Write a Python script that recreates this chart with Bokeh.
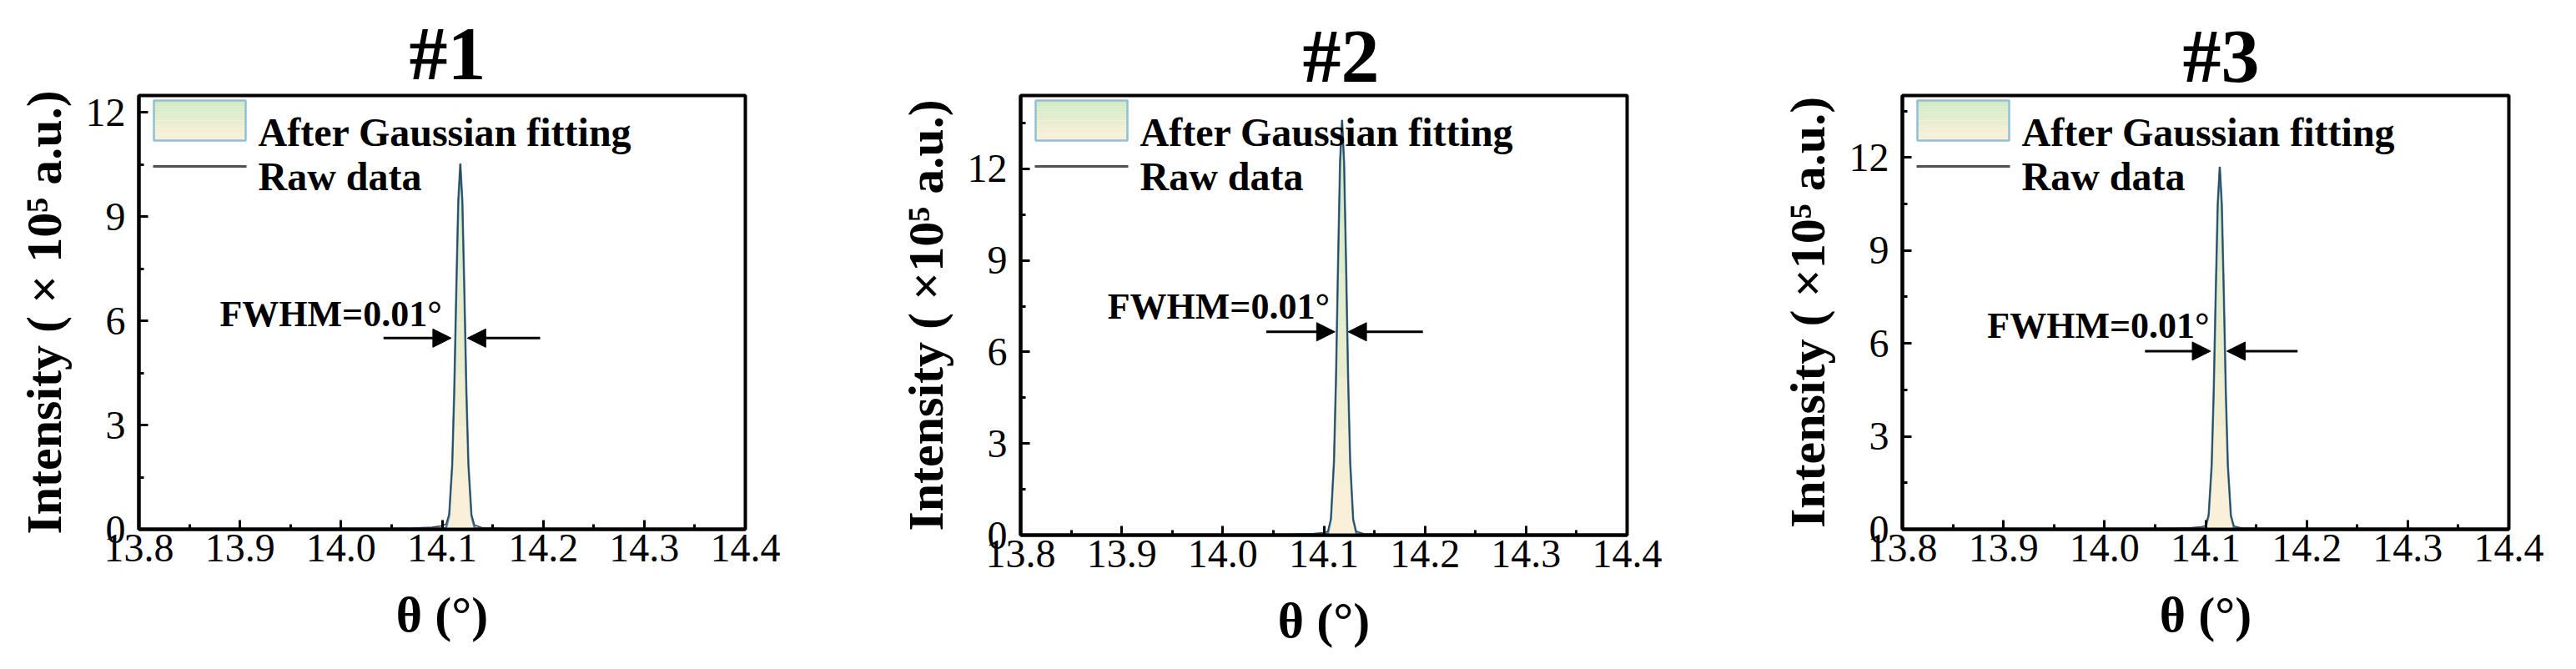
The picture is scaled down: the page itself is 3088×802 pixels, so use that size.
from bokeh.plotting import figure
from bokeh.layouts import row
from bokeh.models import (Range1d, FixedTicker, PrintfTickFormatter, BoxAnnotation,
                          Label, Arrow, NormalHead)
from bokeh.embed import file_html
from bokeh.resources import INLINE

# ---------------- data ----------------
titles = ["#1", "#2", "#3"]
y_labels = ["Intensity ( × 10\u2075 a.u.)", "Intensity ( ×10\u2075 a.u.)", "Intensity ( ×10\u2075 a.u.)"]
x_label = "θ (°)"
legend_labels = ["After Gaussian fitting", "Raw data"]
fwhm_text = "FWHM=0.01°"

x_ticks = [13.8, 13.9, 14.0, 14.1, 14.2, 14.3, 14.4]
x_minor = [13.85, 13.95, 14.05, 14.15, 14.25, 14.35]
y_ticks = [0, 3, 6, 9, 12]
y_minor = [1.5, 4.5, 7.5, 10.5, 13.5]
y_max = [12.48, 14.4, 14.0]

theta_raw_1 = [13.80, 13.95, 14.04, 14.07, 14.09, 14.100, 14.104, 14.107, 14.110, 14.112, 14.114, 14.116,
               14.118, 14.120, 14.122, 14.124, 14.126, 14.129, 14.132, 14.14, 14.16, 14.25, 14.40]
raw_1 = [0.00, 0.00, 0.01, 0.03, 0.06, 0.10, 0.15, 0.45, 1.85, 3.95, 6.85, 9.45,
         10.52, 9.45, 6.85, 3.95, 1.85, 0.42, 0.12, 0.04, 0.02, 0.00, 0.00]
theta_fit_1 = [14.100, 14.104, 14.107, 14.110, 14.112, 14.114, 14.116, 14.118,
               14.120, 14.122, 14.124, 14.126, 14.129, 14.132, 14.136]
fit_1 = [0.00, 0.05, 0.40, 1.86, 3.98, 6.83, 9.44, 10.52, 9.44, 6.83, 3.98, 1.86, 0.40, 0.05, 0.00]

theta_raw_2 = [13.80, 13.95, 14.04, 14.07, 14.09, 14.100, 14.104, 14.107, 14.110, 14.112, 14.114, 14.116,
               14.118, 14.120, 14.122, 14.124, 14.126, 14.129, 14.132, 14.14, 14.16, 14.25, 14.40]
raw_2 = [0.00, 0.00, 0.01, 0.03, 0.05, 0.08, 0.12, 0.55, 2.40, 5.10, 8.80, 12.20,
         13.60, 12.20, 8.80, 5.10, 2.40, 0.50, 0.12, 0.04, 0.02, 0.00, 0.00]
theta_fit_2 = [14.100, 14.104, 14.107, 14.110, 14.112, 14.114, 14.116, 14.118,
               14.120, 14.122, 14.124, 14.126, 14.129, 14.132, 14.136]
fit_2 = [0.00, 0.07, 0.52, 2.41, 5.14, 8.83, 12.20, 13.60, 12.20, 8.83, 5.14, 2.41, 0.52, 0.07, 0.00]

theta_raw_3 = [13.80, 13.95, 14.04, 14.07, 14.086, 14.096, 14.100, 14.103, 14.106, 14.108, 14.110, 14.112,
               14.114, 14.116, 14.118, 14.120, 14.122, 14.125, 14.128, 14.136, 14.156, 14.25, 14.40]
raw_3 = [0.00, 0.00, 0.01, 0.03, 0.05, 0.08, 0.12, 0.47, 2.05, 4.40, 7.60, 10.50,
         11.70, 10.50, 7.60, 4.40, 2.05, 0.45, 0.10, 0.04, 0.02, 0.00, 0.00]
theta_fit_3 = [14.096, 14.100, 14.103, 14.106, 14.108, 14.110, 14.112, 14.114,
               14.116, 14.118, 14.120, 14.122, 14.125, 14.128, 14.132]
fit_3 = [0.00, 0.06, 0.44, 2.07, 4.42, 7.59, 10.49, 11.70, 10.49, 7.59, 4.42, 2.07, 0.44, 0.06, 0.00]

# FWHM annotation positions (data coords)
arrow_y = [5.50, 6.66, 5.75]
arrow_left = [(14.042, 14.109), (14.043, 14.111), (14.040, 14.105)]
arrow_right = [(14.197, 14.125), (14.198, 14.124), (14.191, 14.121)]
fwhm_pos = [(13.880, 6.20), (13.886, 7.48), (13.884, 6.58)]

# ---------------- style ----------------
SERIF = "Liberation Serif"
FRAME_W = 727
frame_h = [520, 527, 520]
border_l = [166, 199, 232]
border_t = [114, 114, 114]
title_offset = [324, 338, 336]
title_standoff = [0, -7, -7]

C_TOP = (208, 234, 196)     # pale green
C_BOT = (253, 240, 218)     # cream


def mix(t):
    r = [int(round(C_BOT[k] + (C_TOP[k] - C_BOT[k]) * t)) for k in range(3)]
    return "#%02x%02x%02x" % tuple(r)


def make_panel(i, theta_r, raw, theta_f, fit):
    ymax = y_max[i]
    fh = frame_h[i]
    bl = border_l[i]
    br = 1024 - bl - FRAME_W
    bt = border_t[i]
    bb = 786 - bt - fh
    p = figure(frame_width=FRAME_W, frame_height=fh,
               min_border_left=bl, min_border_right=br,
               min_border_top=bt, min_border_bottom=bb,
               x_range=Range1d(13.8, 14.4), y_range=Range1d(0, ymax),
               output_backend="svg", toolbar_location=None, tools="")
    p.background_fill_color = "white"
    p.border_fill_color = "white"
    p.outline_line_color = "black"
    p.outline_line_width = 4
    p.outline_line_alpha = 1.0
    p.xgrid.visible = False
    p.ygrid.visible = False

    # title
    p.title.text = titles[i]
    p.title.text_font = SERIF
    p.title.text_font_size = "92px"
    p.title.text_font_style = "bold"
    p.title.text_color = "black"
    p.title.align = "left"
    p.title.offset = title_offset[i]
    p.title.standoff = title_standoff[i]

    # axes
    for ax in (p.xaxis[0], p.yaxis[0]):
        ax.axis_line_width = 4
        ax.axis_line_color = "black"
        ax.major_tick_in = 11
        ax.major_tick_out = 0
        ax.minor_tick_in = 6
        ax.minor_tick_out = 0
        ax.major_tick_line_width = 3
        ax.minor_tick_line_width = 3
        ax.major_tick_line_color = "black"
        ax.minor_tick_line_color = "black"
        ax.major_label_text_font = SERIF
        ax.major_label_text_font_size = "48px"
        ax.major_label_text_color = "black"
        ax.axis_label_text_font = SERIF
        ax.axis_label_text_font_size = "60px"
        ax.axis_label_text_font_style = "bold"
        ax.axis_label_text_color = "black"
    p.xaxis.ticker = FixedTicker(ticks=x_ticks, minor_ticks=x_minor)
    p.xaxis.formatter = PrintfTickFormatter(format="%.1f")
    p.xaxis.major_label_standoff = 6
    p.xaxis.axis_label = x_label
    p.xaxis.axis_label_standoff = 28
    p.yaxis.ticker = FixedTicker(ticks=y_ticks, minor_ticks=y_minor)
    p.yaxis.formatter = PrintfTickFormatter(format="%d")
    p.yaxis.major_label_standoff = 16
    p.yaxis.axis_label = y_labels[i]
    p.yaxis.axis_label_standoff = 14

    # gaussian fit: vertical gradient fill in bands
    nb = 8
    for k in range(nb):
        lo = ymax * 0.95 * k / nb
        hi = ymax * 0.95 * (k + 1) / nb if k < nb - 1 else ymax
        y1 = [min(v, lo) for v in fit]
        y2 = [min(v, hi) for v in fit]
        p.varea(x=theta_f, y1=y1, y2=y2, fill_color=mix((k + 0.5) / nb), fill_alpha=1.0)
    p.line(theta_f, fit, line_color="#4a86ad", line_width=2.6)
    # raw data
    p.line(theta_r, raw, line_color="#2f4a5c", line_width=1.6)

    # ---- custom legend (positions in frame pixels converted to data) ----
    def dx(px):
        return 13.8 + px / FRAME_W * 0.6

    def dy(px):
        return ymax - px / fh * ymax

    ns = 14
    top_px, bot_px = 6, 54
    for k in range(ns):
        t0 = top_px + (bot_px - top_px) * k / ns
        t1 = top_px + (bot_px - top_px) * (k + 1) / ns
        p.add_layout(BoxAnnotation(left=dx(18), right=dx(128), top=dy(t0), bottom=dy(t1),
                                   fill_color=mix(1 - (k + 0.5) / ns), fill_alpha=1.0,
                                   line_alpha=0, level="overlay"))
    p.add_layout(BoxAnnotation(left=dx(18), right=dx(128), top=dy(top_px), bottom=dy(bot_px),
                               fill_alpha=0, line_color="#8fc0da", line_alpha=1.0,
                               line_width=2.5, level="overlay"))
    p.add_layout(BoxAnnotation(left=dx(17), right=dx(129), top=dy(83.5), bottom=dy(86.5),
                               fill_color="#505050", fill_alpha=1.0, line_alpha=0, level="overlay"))
    p.add_layout(Label(x=dx(143), y=dy(44), text=legend_labels[0], text_font=SERIF,
                       text_font_size="48px", text_font_style="bold", text_baseline="alphabetic",
                       text_color="black"))
    p.add_layout(Label(x=dx(143), y=dy(97), text=legend_labels[1], text_font=SERIF,
                       text_font_size="48px", text_font_style="bold", text_baseline="alphabetic",
                       text_color="black"))

    # ---- FWHM annotation ----
    p.add_layout(Label(x=fwhm_pos[i][0], y=fwhm_pos[i][1], text=fwhm_text, text_font=SERIF,
                       text_font_size="44px", text_font_style="bold", text_baseline="alphabetic",
                       text_color="black"))
    for (xs, xe) in (arrow_left[i], arrow_right[i]):
        p.add_layout(Arrow(end=NormalHead(size=22, fill_color="black", line_color="black", line_width=1),
                           x_start=xs, y_start=arrow_y[i], x_end=xe, y_end=arrow_y[i],
                           line_width=3, line_color="black"))
    return p


p1 = make_panel(0, theta_raw_1, raw_1, theta_fit_1, fit_1)
p2 = make_panel(1, theta_raw_2, raw_2, theta_fit_2, fit_2)
p3 = make_panel(2, theta_raw_3, raw_3, theta_fit_3, fit_3)

layout = row(p1, p2, p3)
open("out.html", "w").write(file_html(layout, INLINE))
